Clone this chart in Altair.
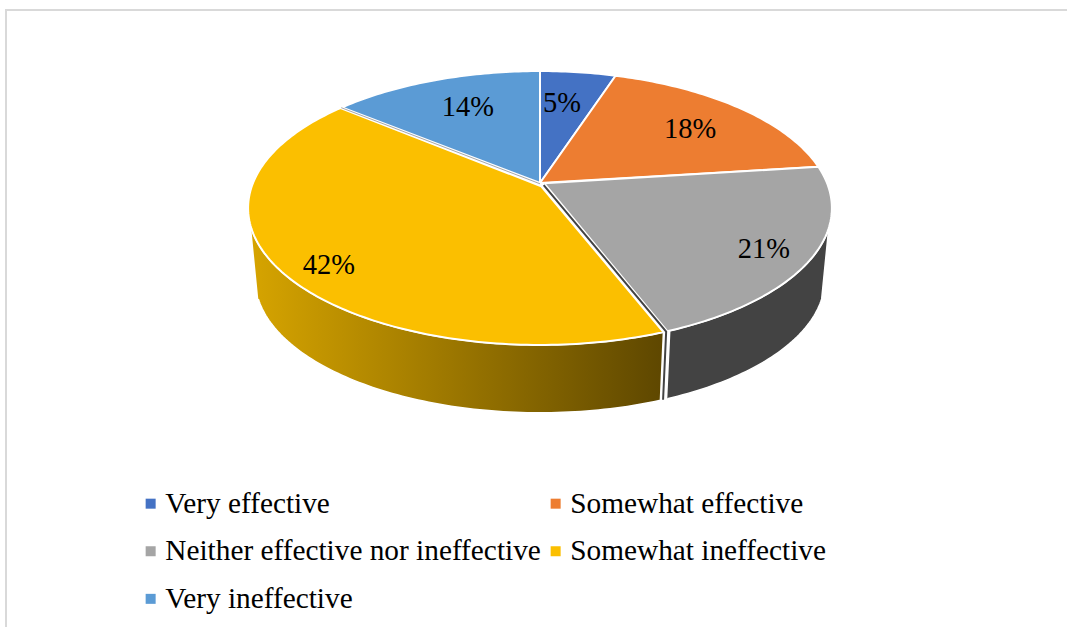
import math
import altair as alt
import pandas as pd

# Survey shares and their labels, clockwise from twelve o'clock
categories = ["Very effective", "Somewhat effective", "Neither effective nor ineffective",
              "Somewhat ineffective", "Very ineffective"]
shares = [5, 18, 21, 42, 14]
colors = ["#4472C4", "#ED7D31", "#A5A5A5", "#FBBF00", "#5B9BD5"]
label_reach = [0.684, 0.717, 0.849, 0.864, 0.70]
label_turn = [-1.8, 1.6, 2.0, -4.1, 1.6]

W, H = 1067, 627
FONT = "Liberation Serif"

# Tilted-disc projection: a rim point at a given angle, for either the top or bottom plane
TOP = dict(cx=540, cy=183, rx=287, ry=132.4)
BOTTOM = dict(cx=540, cy=255, rx=280, ry=129)
TILT = 0.1825


def project(deg, reach=1.0, plane=TOP):
    t = math.radians(deg)
    u, v = reach * math.sin(t), -reach * math.cos(t)
    d = 1 - TILT * v
    return plane["cx"] + plane["rx"] * u / d, plane["cy"] + plane["ry"] * v / d


def rim(a, b, plane=TOP, step=1.0):
    n = max(2, int(abs(b - a) / step) + 1)
    return [project(a + (b - a) * i / (n - 1), 1.0, plane) for i in range(n)]


x_scale = alt.Scale(domain=[0, W], range=[0, W], nice=False, zero=False)
y_scale = alt.Scale(domain=[0, H], range=[0, H], nice=False, zero=False)


def poly(points, group=""):
    return pd.DataFrame([{"x": p[0], "y": p[1], "i": i, "name": group} for i, p in enumerate(points)])


def enc(chart):
    return chart.encode(
        x=alt.X("x:Q", scale=x_scale, axis=None),
        y=alt.Y("y:Q", scale=y_scale, axis=None),
        order="i:Q",
    )


bounds = [0]
for s in shares:
    bounds.append(bounds[-1] + s * 3.6)

WALL_LEFT, WALL_RIGHT = 251.3, 108.7
seam = bounds[3]
back_seam = bounds[4]

# Side wall of the yellow slice, darkening toward the seam
yellow_wall = enc(alt.Chart(poly(rim(WALL_LEFT, seam + 0.7) + rim(seam + 0.7, WALL_LEFT, BOTTOM))).mark_line(
    fill=alt.Gradient(gradient="linear", x1=0, x2=1, y1=0, y2=0,
                      stops=[alt.GradientStop(offset=0, color="#D6A400"),
                             alt.GradientStop(offset=1, color="#5E4700")]),
    stroke="white", strokeWidth=1.5))

# Side wall of the grey slice
grey_wall = enc(alt.Chart(poly(rim(seam - 0.6, WALL_RIGHT) + rim(WALL_RIGHT, seam - 0.6, BOTTOM))).mark_line(
    fill="#434343", stroke="white", strokeWidth=1.5))

layers = [yellow_wall, grey_wall]

# Top faces: one closed outline per slice, carrying the legend.
# The yellow and grey slices sit slightly off the hub so the inner walls show along their edges.
starts = bounds[:-1]
ends = bounds[1:]
starts[3] = seam + 0.7
ends[3] = back_seam - 0.4
hubs = [project(0, 0.0), project(0, 0.0), project(100, 0.015), project(170, 0.025), project(0, 0.0)]
for name, a, b, hub in zip(categories, starts, ends, hubs):
    frame = poly([hub] + rim(a, b) + [hub], name)
    layers.append(enc(alt.Chart(frame).mark_line(stroke="white", strokeWidth=2, fillOpacity=1).encode(
        fill=alt.Fill("name:N",
                      scale=alt.Scale(domain=categories, range=colors),
                      sort=categories,
                      legend=alt.Legend(
                          title=None, orient="none", legendX=136, legendY=489, columns=2,
                          direction="horizontal",
                          symbolType="square", symbolSize=100, symbolStrokeWidth=0,
                          labelFont=FONT, labelFontSize=29.3, labelColor="#000000",
                          labelLimit=500, rowPadding=17.6, columnPadding=-2,
                          symbolOffset=0, labelOffset=0)))))

# Inner walls visible along the slice edges
inner_front = [project(140, 0.02), project(seam + 0.2, 1.0), project(seam + 0.2, 1.0, BOTTOM)]
layers.append(enc(alt.Chart(poly(inner_front)).mark_line(stroke="#434343", strokeWidth=2)))
inner_back = [project(180, 0.006), project(back_seam - 0.2, 1.0)]
layers.append(enc(alt.Chart(poly(inner_back)).mark_line(stroke="#A8A8A8", strokeWidth=1)))

# Percentage labels
labels = []
for s, a, b, r, turn in zip(shares, bounds[:-1], bounds[1:], label_reach, label_turn):
    px, py = project((a + b) / 2 + turn, r)
    labels.append({"x": px, "y": py, "t": f"{s}%"})
layers.append(alt.Chart(pd.DataFrame(labels)).mark_text(
    font=FONT, fontSize=28.5, color="#000000").encode(
    x=alt.X("x:Q", scale=x_scale, axis=None),
    y=alt.Y("y:Q", scale=y_scale, axis=None),
    text="t:N"))

# Thin page frame on the top and left
frame_top = alt.Chart(pd.DataFrame({"x": [5], "x2": [W], "y": [10]})).mark_rule(
    color="#D9D9D9", strokeWidth=2).encode(
    x=alt.X("x:Q", scale=x_scale, axis=None), x2="x2:Q",
    y=alt.Y("y:Q", scale=y_scale, axis=None))
frame_left = alt.Chart(pd.DataFrame({"x": [6], "y": [9], "y2": [H]})).mark_rule(
    color="#D9D9D9", strokeWidth=2).encode(
    x=alt.X("x:Q", scale=x_scale, axis=None),
    y=alt.Y("y:Q", scale=y_scale, axis=None), y2="y2:Q")
layers += [frame_top, frame_left]

chart = alt.layer(*layers).resolve_scale(fill="shared").properties(
    width=W, height=H, padding=0, autosize=alt.AutoSizeParams(type="none"),
    background="white",
).configure_view(stroke=None)

chart.save("out.html", embed_options={"renderer": "svg", "actions": False})
